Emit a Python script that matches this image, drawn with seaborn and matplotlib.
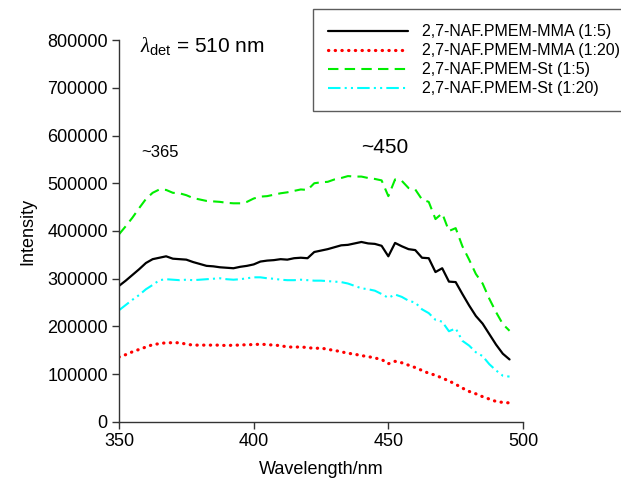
import matplotlib
matplotlib.use("Agg")
import matplotlib.pyplot as plt
import seaborn as sns
import pandas as pd
from matplotlib.ticker import FuncFormatter, FixedLocator
from matplotlib.lines import Line2D

wavelength = [350 + 2.5 * i for i in range(59)]

mma_1_5 = [285000, 296000, 308000, 320000, 333000, 341000, 344000, 347000, 342000, 341000,
           340000, 335000, 331000, 327000, 326000, 324000, 323000, 322000, 325000, 327000,
           330000, 336000, 338000, 339000, 341000, 340000, 343000, 344000, 343000, 356000,
           359000, 362000, 366000, 370000, 371000, 374000, 377000, 374000, 373000, 369000,
           347000, 375000, 368000, 362000, 360000, 344000, 343000, 314000, 322000, 294000,
           293000, 268000, 244000, 222000, 206000, 184000, 162000, 143000, 131000]

mma_1_20 = [136000, 141000, 147000, 152000, 157000, 162000, 164000, 166000, 166000, 166000,
            163000, 161000, 161000, 161000, 161000, 161000, 160000, 161000, 161000, 162000,
            162000, 163000, 162000, 161000, 160000, 157000, 157000, 157000, 156000, 154000,
            155000, 152000, 150000, 147000, 144000, 142000, 139000, 137000, 134000, 131000,
            122000, 127000, 124000, 119000, 114000, 108000, 102000, 98000, 92000, 86000,
            79000, 71000, 64000, 59000, 53000, 48000, 43000, 41000, 40000]

st_1_5 = [393000, 410000, 428000, 448000, 467000, 480000, 487000, 486000, 480000, 479000,
          475000, 469000, 466000, 463000, 462000, 461000, 459000, 458000, 458000, 461000,
          468000, 472000, 473000, 476000, 479000, 481000, 484000, 487000, 486000, 500000,
          502000, 503000, 508000, 511000, 515000, 514000, 514000, 511000, 509000, 506000,
          473000, 508000, 505000, 490000, 487000, 466000, 461000, 425000, 437000, 400000,
          406000, 368000, 340000, 310000, 290000, 258000, 230000, 205000, 191000]

st_1_20 = [234000, 245000, 256000, 266000, 278000, 287000, 297000, 299000, 298000, 297000,
           298000, 297000, 298000, 299000, 300000, 301000, 299000, 298000, 299000, 301000,
           303000, 303000, 301000, 300000, 298000, 297000, 297000, 298000, 297000, 296000,
           296000, 295000, 294000, 293000, 290000, 285000, 280000, 278000, 275000, 268000,
           260000, 267000, 262000, 254000, 250000, 236000, 228000, 214000, 210000, 190000,
           196000, 170000, 160000, 146000, 138000, 121000, 108000, 97000, 95000]

series_names = ["2,7-NAF.PMEM-MMA (1:5)", "2,7-NAF.PMEM-MMA (1:20)",
                "2,7-NAF.PMEM-St (1:5)", "2,7-NAF.PMEM-St (1:20)"]
series_values = [mma_1_5, mma_1_20, st_1_5, st_1_20]

x_ticks = [350, 400, 450, 500]
y_ticks = [0, 100000, 200000, 300000, 400000, 500000, 600000, 700000, 800000]

rows = []
for name, vals in zip(series_names, series_values):
    for w, v in zip(wavelength, vals):
        rows.append({"Wavelength": w, "Intensity": v, "Series": name})
df = pd.DataFrame(rows)

sns.set_theme(style="ticks")
plt.rcParams["font.family"] = ["Liberation Sans", "DejaVu Sans"]
plt.rcParams["mathtext.fontset"] = "custom"
plt.rcParams["mathtext.rm"] = "Liberation Sans"
plt.rcParams["mathtext.it"] = "Liberation Serif:italic"
plt.rcParams["text.color"] = "black"
plt.rcParams["axes.labelcolor"] = "black"

fig = plt.figure(figsize=(6.21, 4.82), dpi=100)
ax = fig.add_axes([0.1916, 0.1245, 0.6506, 0.7925])

styles = [
    dict(color="black", lw=1.6, ls="-"),
    dict(color="#ff0000", lw=2.3, ls=(0, (0.1, 2.0)), dash_capstyle="round"),
    dict(color="#00ee00", lw=1.5, ls=(0, (5, 3))),
    dict(color="#00ffff", lw=1.5, ls=(0, (6, 2, 1, 2, 1, 2))),
]

handles = []
for name, st in zip(series_names, styles):
    sub = df[df["Series"] == name]
    extra = {}
    if "dash_capstyle" in st:
        extra["dash_capstyle"] = st["dash_capstyle"]
    sns.lineplot(data=sub, x="Wavelength", y="Intensity", ax=ax, color=st["color"],
                 linewidth=st["lw"], linestyle=st["ls"], legend=False, **extra)
    handles.append(Line2D([], [], color=st["color"], linewidth=st["lw"],
                          linestyle=st["ls"], **extra))

ax.set_xlim(350, 500)
ax.set_ylim(0, 800000)
ax.xaxis.set_major_locator(FixedLocator(x_ticks))
ax.yaxis.set_major_locator(FixedLocator(y_ticks))
ax.yaxis.set_major_formatter(FuncFormatter(lambda v, p: f"{int(v)}"))
sns.despine(ax=ax)
for s in ["left", "bottom"]:
    ax.spines[s].set_linewidth(1.0)
    ax.spines[s].set_color("#333333")
ax.tick_params(axis="both", labelsize=13, length=5, width=1.0, color="#333333",
               labelcolor="black", pad=3)
ax.set_xlabel("Wavelength/nm", fontsize=13, labelpad=8)
ax.set_ylabel("Intensity", fontsize=13, labelpad=8)

fig.text(0.225, 0.905, r"$\mathit{\lambda}_{\rm det}$" + " = 510 nm", fontsize=15,
         ha="left", va="center")
fig.text(0.228, 0.683, "~365", fontsize=12, ha="left", va="center")
fig.text(0.582, 0.693, "~450", fontsize=15, ha="left", va="center")

leg = fig.legend(handles, series_names, loc="upper left",
                 bbox_to_anchor=(313 / 621, 1 - 9 / 482), fontsize=11.5,
                 frameon=True, fancybox=False, handlelength=5.0, handletextpad=0.9,
                 borderpad=0.95, labelspacing=0.25, borderaxespad=0)
leg.get_frame().set_edgecolor("#333333")
leg.get_frame().set_linewidth(1.0)

fig.savefig("out.png", dpi=100)
